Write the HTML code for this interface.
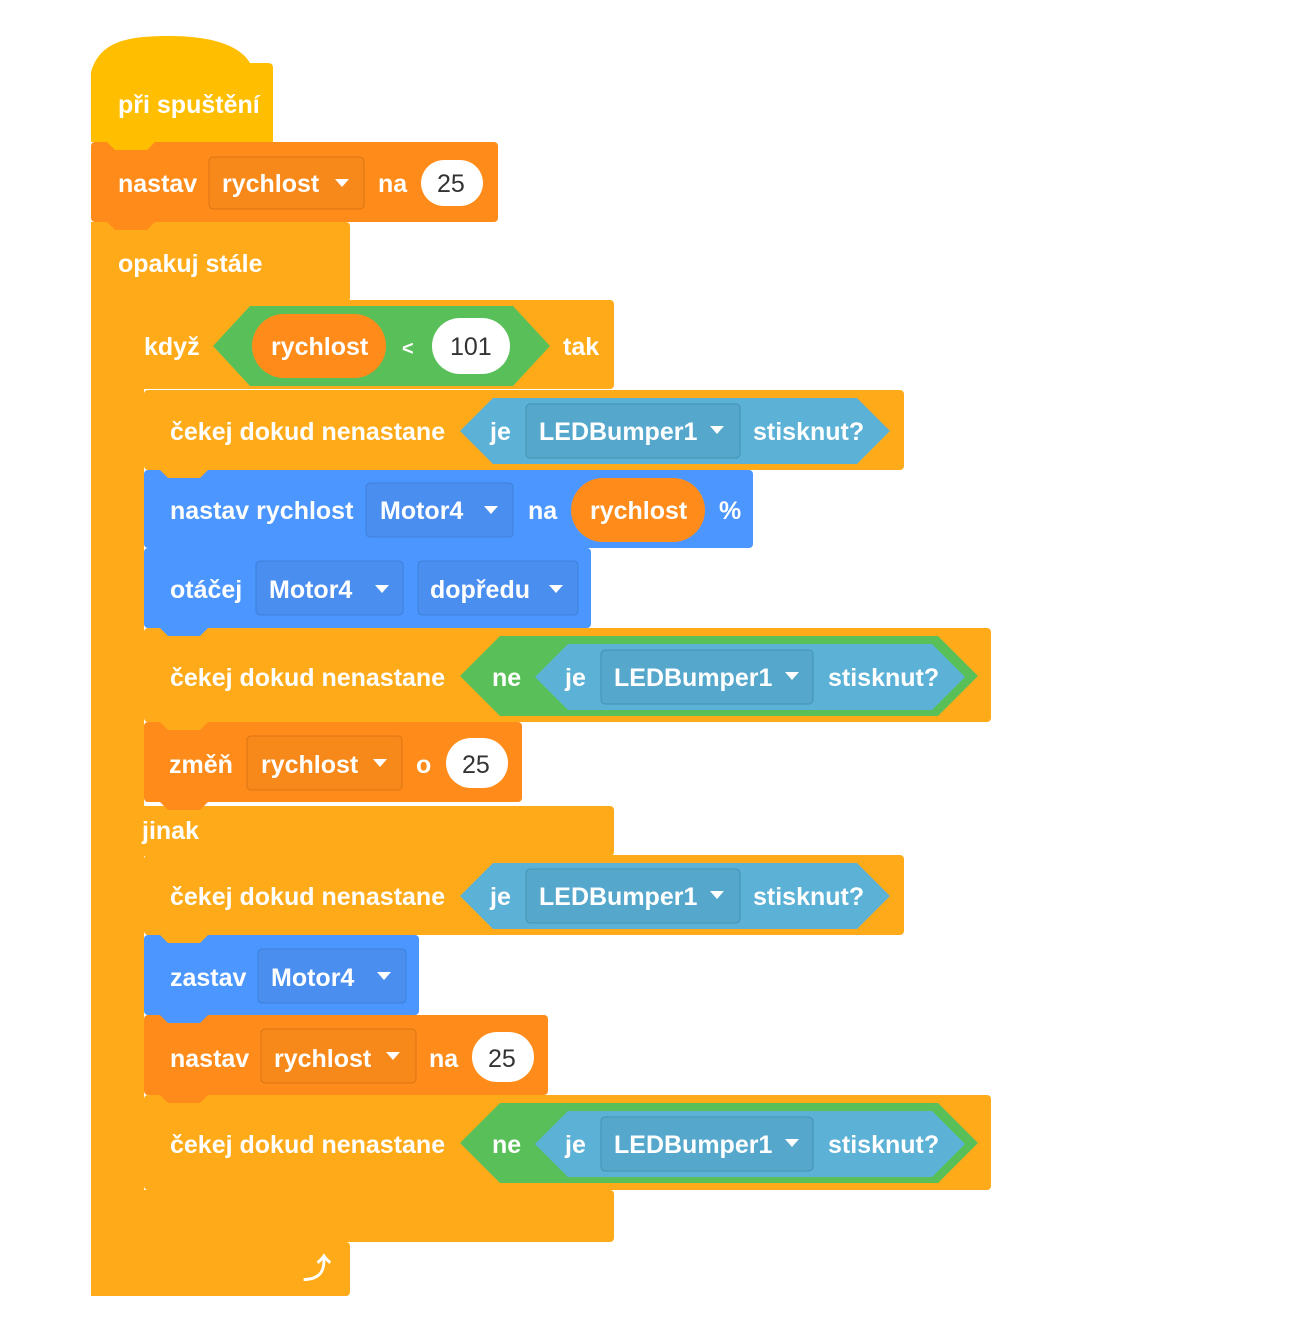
<!DOCTYPE html>
<html><head><meta charset="utf-8"><style>
html,body{margin:0;padding:0;background:#fff;}
svg text{font-family:"Liberation Sans",sans-serif;font-weight:bold;font-size:25px;fill:#fff;}
svg text.n{fill:#333;font-weight:normal;font-size:25px;}
</style></head><body>
<svg width="1294" height="1320" viewBox="0 0 1294 1320" xmlns="http://www.w3.org/2000/svg">
<!-- hat -->
<path d="M91,142 L91,72 C100,40 130,36 170,36 C210,36 240,45 250,63 L268,63 Q273,63 273,68 L273,142 Z" fill="#FFBF00"/>
<text x="118" y="113">při spuštění</text>
<!-- forever -->
<g fill="#FFAB19">
<rect x="91" y="222" width="259" height="80" rx="4"/>
<rect x="91" y="222" width="28" height="1074"/>
<rect x="91" y="1242" width="259" height="54" rx="4"/>
</g>
<text x="118" y="272">opakuj stále</text>
<text x="303" y="1278" style="font-size:28px">⤴</text>
<!-- if else -->
<g fill="#FFAB19">
<rect x="118" y="300" width="496" height="89" rx="4"/>
<rect x="118" y="300" width="26" height="942"/>
<rect x="118" y="806" width="496" height="50" rx="4"/>
<rect x="118" y="1190" width="496" height="52" rx="4"/>
</g>
<text x="144" y="355">když</text>
<polygon points="213,346 250,306 513,306 550,346 513,386 250,386" fill="#59C059"/>
<rect x="252" y="314" width="134" height="64" rx="32" fill="#FF8C1A"/>
<text x="271" y="355">rychlost</text>
<text x="402" y="355" style="font-size:20px">&lt;</text>
<rect x="432" y="318" width="78" height="56" rx="28" fill="#fff"/>
<text class="n" x="450" y="355">101</text>
<text x="563" y="355">tak</text>
<text x="142" y="839">jinak</text>

<!-- 1: wait -->
<rect x="144" y="390" width="760" height="80" rx="4" fill="#FFAB19"/>
<text x="170" y="440">čekej dokud nenastane</text>
<polygon points="460,431 493,398 857,398 890,431 857,464 493,464" fill="#5CB1D6"/>
<text x="490" y="440">je</text>
<rect x="526" y="404" width="214" height="54" rx="4" fill="#55A8CC" stroke="#4592B3"/>
<text x="539" y="440">LEDBumper1</text>
<polygon points="710,426 724,426 717,434" fill="#fff"/>
<text x="753" y="440">stisknut?</text>

<!-- 2: blue set speed -->
<rect x="144" y="470" width="609" height="78" rx="4" fill="#4C97FF"/>
<text x="170" y="519">nastav rychlost</text>
<rect x="366" y="483" width="147" height="54" rx="4" fill="#4A8FF0" stroke="#3D7FD8"/>
<text x="380" y="519">Motor4</text>
<polygon points="484,506 498,506 491,514" fill="#fff"/>
<text x="528" y="519">na</text>
<rect x="571" y="478" width="134" height="64" rx="32" fill="#FF8C1A"/>
<text x="590" y="519">rychlost</text>
<text x="719" y="519">%</text>

<!-- 3: rotate -->
<rect x="144" y="548" width="447" height="80" rx="4" fill="#4C97FF"/>
<text x="170" y="598">otáčej</text>
<rect x="256" y="561" width="147" height="54" rx="4" fill="#4A8FF0" stroke="#3D7FD8"/>
<text x="269" y="598">Motor4</text>
<polygon points="375,585 389,585 382,593" fill="#fff"/>
<rect x="418" y="561" width="160" height="54" rx="4" fill="#4A8FF0" stroke="#3D7FD8"/>
<text x="430" y="598">dopředu</text>
<polygon points="549,585 563,585 556,593" fill="#fff"/>

<!-- 4: wait not -->
<rect x="144" y="628" width="847" height="94" rx="4" fill="#FFAB19"/>
<text x="170" y="686">čekej dokud nenastane</text>
<polygon points="460,676 500,636 938,636 978,676 938,716 500,716" fill="#59C059"/>
<text x="492" y="686">ne</text>
<polygon points="535,677 568,644 932,644 965,677 932,710 568,710" fill="#5CB1D6"/>
<text x="565" y="686">je</text>
<rect x="601" y="650" width="212" height="54" rx="4" fill="#55A8CC" stroke="#4592B3"/>
<text x="614" y="686">LEDBumper1</text>
<polygon points="785,672 799,672 792,680" fill="#fff"/>
<text x="828" y="686">stisknut?</text>

<!-- 5: change -->
<rect x="144" y="722" width="378" height="80" rx="4" fill="#FF8C1A"/>
<text x="169" y="773">změň</text>
<rect x="247" y="736" width="155" height="54" rx="4" fill="#F7891A" stroke="#DB7512"/>
<text x="261" y="773">rychlost</text>
<polygon points="373,759 387,759 380,767" fill="#fff"/>
<text x="416" y="773">o</text>
<rect x="446" y="738" width="62" height="50" rx="25" fill="#fff"/>
<text class="n" x="462" y="773">25</text>

<!-- 6: wait -->
<rect x="144" y="855" width="760" height="80" rx="4" fill="#FFAB19"/>
<text x="170" y="905">čekej dokud nenastane</text>
<polygon points="460,896 493,863 857,863 890,896 857,929 493,929" fill="#5CB1D6"/>
<text x="490" y="905">je</text>
<rect x="526" y="869" width="214" height="54" rx="4" fill="#55A8CC" stroke="#4592B3"/>
<text x="539" y="905">LEDBumper1</text>
<polygon points="710,891 724,891 717,899" fill="#fff"/>
<text x="753" y="905">stisknut?</text>

<!-- 7: stop -->
<rect x="144" y="935" width="275" height="80" rx="4" fill="#4C97FF"/>
<text x="170" y="986">zastav</text>
<rect x="258" y="949" width="148" height="54" rx="4" fill="#4A8FF0" stroke="#3D7FD8"/>
<text x="271" y="986">Motor4</text>
<polygon points="377,972 391,972 384,980" fill="#fff"/>

<!-- 8: set var -->
<rect x="144" y="1015" width="404" height="80" rx="4" fill="#FF8C1A"/>
<text x="170" y="1067">nastav</text>
<rect x="261" y="1029" width="155" height="54" rx="4" fill="#F7891A" stroke="#DB7512"/>
<text x="274" y="1067">rychlost</text>
<polygon points="386,1052 400,1052 393,1060" fill="#fff"/>
<text x="429" y="1067">na</text>
<rect x="472" y="1032" width="62" height="50" rx="25" fill="#fff"/>
<text class="n" x="488" y="1067">25</text>

<!-- 9: wait not -->
<rect x="144" y="1095" width="847" height="95" rx="4" fill="#FFAB19"/>
<text x="170" y="1153">čekej dokud nenastane</text>
<polygon points="460,1143 500,1103 938,1103 978,1143 938,1183 500,1183" fill="#59C059"/>
<text x="492" y="1153">ne</text>
<polygon points="535,1144 568,1111 932,1111 965,1144 932,1177 568,1177" fill="#5CB1D6"/>
<text x="565" y="1153">je</text>
<rect x="601" y="1117" width="212" height="54" rx="4" fill="#55A8CC" stroke="#4592B3"/>
<text x="614" y="1153">LEDBumper1</text>
<polygon points="785,1139 799,1139 792,1147" fill="#fff"/>
<text x="828" y="1153">stisknut?</text>

<!-- top set var -->
<rect x="91" y="142" width="407" height="80" rx="4" fill="#FF8C1A"/>
<text x="118" y="192">nastav</text>
<rect x="209" y="157" width="155" height="52" rx="4" fill="#F7891A" stroke="#DB7512"/>
<text x="222" y="192">rychlost</text>
<polygon points="335,179 349,179 342,187" fill="#fff"/>
<text x="378" y="192">na</text>
<rect x="421" y="160" width="62" height="46" rx="23" fill="#fff"/>
<text class="n" x="437" y="192">25</text>

<!-- tabs -->
<polygon points="107,142 115,150 147,150 155,142" fill="#FFBF00"/>
<polygon points="107,222 115,230 147,230 155,222" fill="#FF8C1A"/>
<polygon points="134,300 142,308 174,308 182,300" fill="#FFAB19"/>
<polygon points="160,470 168,478 200,478 208,470" fill="#FFAB19"/>
<polygon points="160,548 168,556 200,556 208,548" fill="#4C97FF"/>
<polygon points="160,628 168,636 200,636 208,628" fill="#4C97FF"/>
<polygon points="160,722 168,730 200,730 208,722" fill="#FFAB19"/>
<polygon points="160,802 168,810 200,810 208,802" fill="#FF8C1A"/>
<polygon points="160,935 168,943 200,943 208,935" fill="#FFAB19"/>
<polygon points="160,1015 168,1023 200,1023 208,1015" fill="#4C97FF"/>
<polygon points="160,1095 168,1103 200,1103 208,1095" fill="#FF8C1A"/>
<polygon points="160,1190 168,1198 200,1198 208,1190" fill="#FFAB19"/>
<polygon points="134,1242 142,1250 174,1250 182,1242" fill="#FFAB19"/>
</svg>
</body></html>
